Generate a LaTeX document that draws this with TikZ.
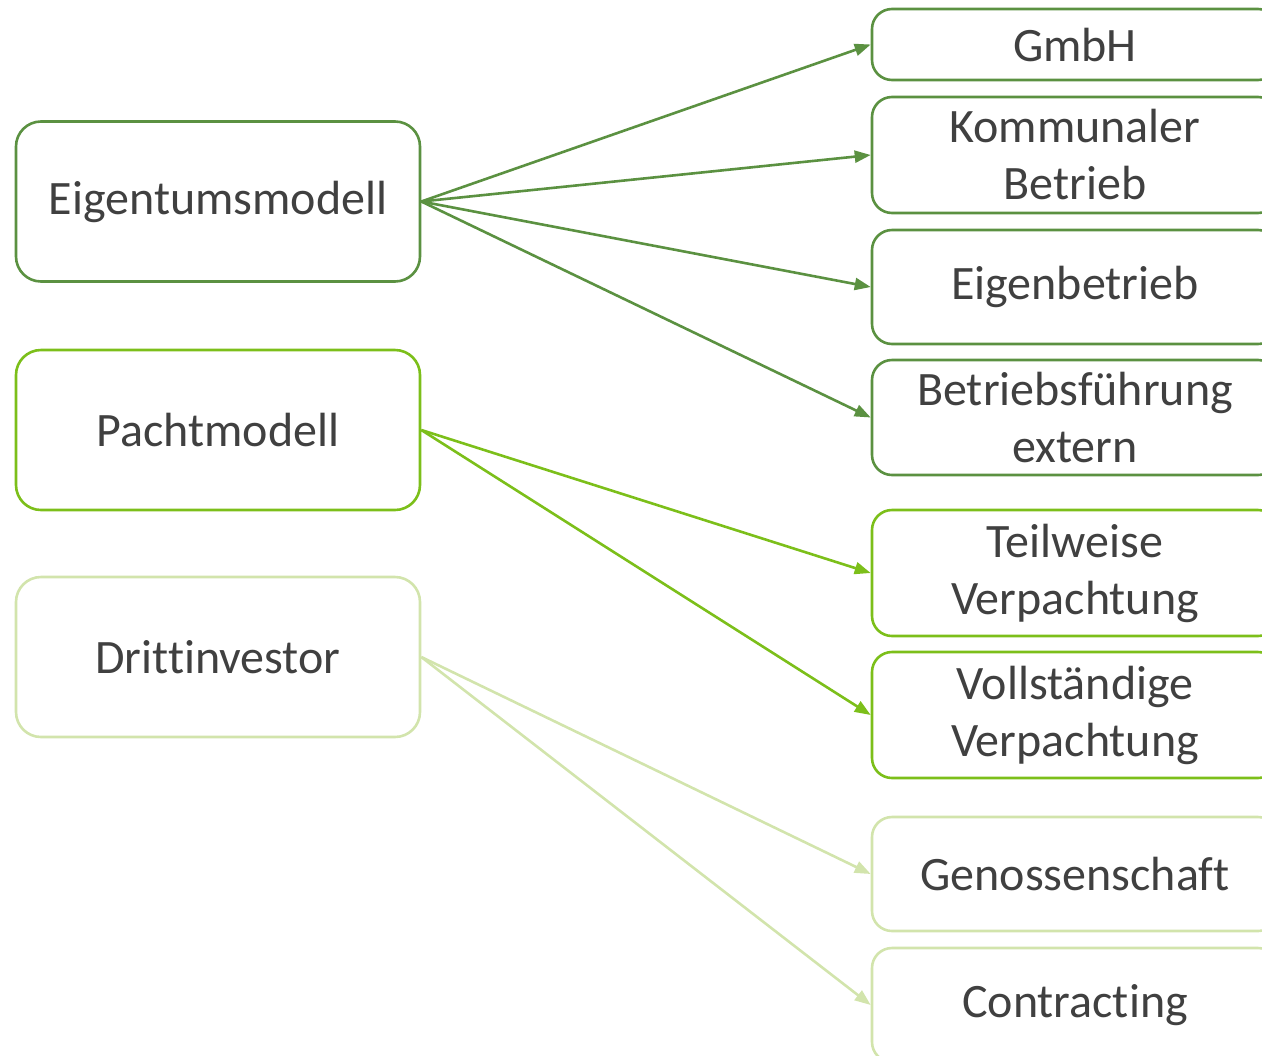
\documentclass[tikz,border=0pt]{standalone}
\usepackage{fontspec}
\setmainfont{Carlito}[Ligatures={NoCommon}]
\usetikzlibrary{arrows.meta}
\definecolor{GreenDeep}{HTML}{5B9141}
\definecolor{Lime}{HTML}{7CBF1A}
\definecolor{LimeSoft}{HTML}{D2E4AC}
\definecolor{Ink}{HTML}{404040}

\begin{document}
\begin{tikzpicture}[x=0.5pt,y=-0.5pt,
  srcbox/.style={draw=#1, rounded corners=12.5pt, line width=1.3pt, minimum width=202pt, minimum height=80pt, text=Ink, font=\fontsize{24}{28.5}\selectfont, align=center},
  dstbox/.style={draw=#1, rounded corners=10pt, line width=1.3pt, minimum width=203pt, inner sep=0pt, text=Ink, font=\fontsize{24}{28.5}\selectfont, align=center},
  link/.style={draw=#1, line width=1.3pt, -{Triangle[length=8pt,width=6pt]}}]
\useasboundingbox (0,0) rectangle (1262,1055);
% models
\node[srcbox=GreenDeep] (eigentum) at (218,201.5) {Eigentumsmodell};
\node[srcbox=Lime] (pacht) at (218,430) {Pachtmodell};
\node[srcbox=LimeSoft] (dritt) at (218,657) {Drittinvestor};
% forms
\node[dstbox=GreenDeep, minimum height=35.5pt] (gmbh) at (1075,44.5) {GmbH};
\node[dstbox=GreenDeep, minimum height=58pt] (kommunal) at (1075,155) {Kommunaler\\Betrieb};
\node[dstbox=GreenDeep, minimum height=57pt] (eigenbetrieb) at (1075,287) {Eigenbetrieb};
\node[dstbox=GreenDeep, minimum height=57.5pt] (extern) at (1075,417.5) {Betriebsführung\\extern};
\node[dstbox=Lime, minimum height=63pt] (teilweise) at (1075,573) {Teilweise\\Verpachtung};
\node[dstbox=Lime, minimum height=63pt] (vollst) at (1075,715) {Vollständige\\Verpachtung};
\node[dstbox=LimeSoft, minimum height=57pt] (genossen) at (1075,874) {Genossenschaft};
\node[dstbox=LimeSoft, minimum height=57pt] (contracting) at (1075,1005) {Contracting};
% links
\draw[link=GreenDeep] (eigentum.east) -- (gmbh.west);
\draw[link=GreenDeep] (eigentum.east) -- (kommunal.west);
\draw[link=GreenDeep] (eigentum.east) -- (eigenbetrieb.west);
\draw[link=GreenDeep] (eigentum.east) -- (extern.west);
\draw[link=Lime] (pacht.east) -- (teilweise.west);
\draw[link=Lime] (pacht.east) -- (vollst.west);
\draw[link=LimeSoft] (dritt.east) -- (genossen.west);
\draw[link=LimeSoft] (dritt.east) -- (contracting.west);
\end{tikzpicture}
\end{document}
